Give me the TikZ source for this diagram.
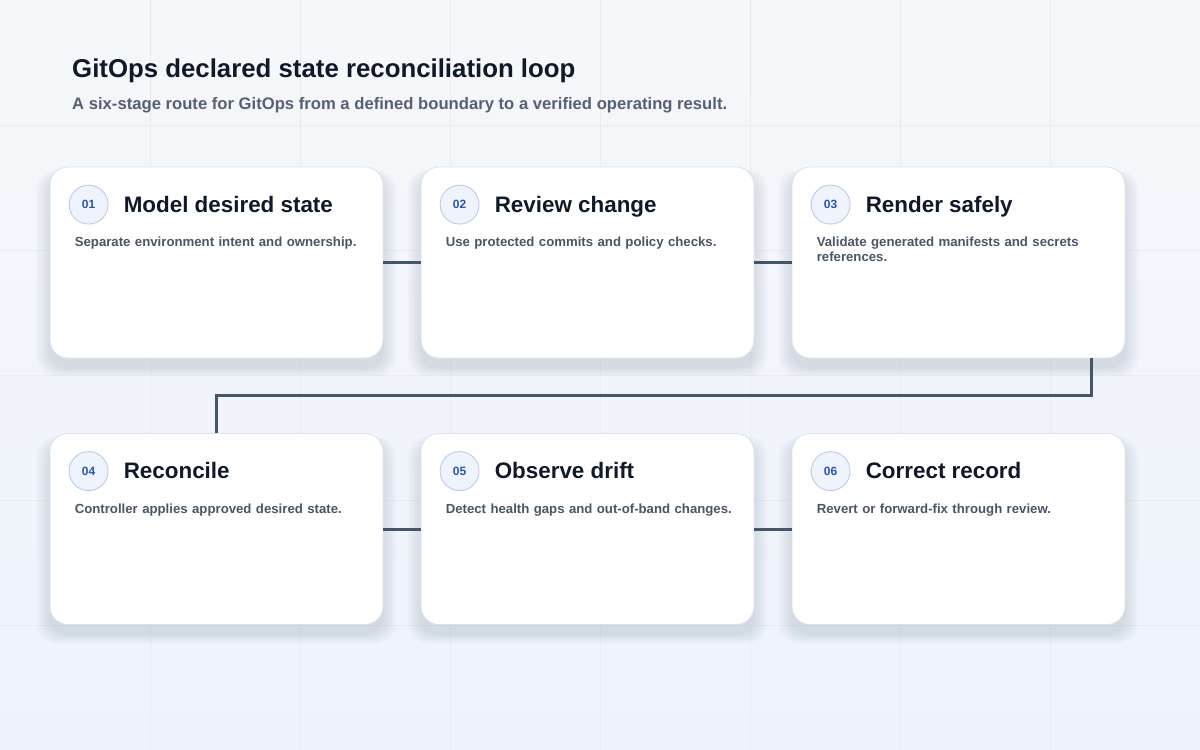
\documentclass[tikz,border=0pt]{standalone}
\usepackage{fontspec}
\setmainfont{Liberation Sans}
\usepackage{xcolor}
\usepackage{tikz}
\usetikzlibrary{shadows}
\hyphenpenalty=10000
\exhyphenpenalty=10000

\definecolor{ink}{HTML}{111827}
\definecolor{muted}{HTML}{4B5563}
\definecolor{subink}{HTML}{566070}
\definecolor{wire}{HTML}{475569}
\definecolor{cardedge}{HTML}{DCE2EC}
\definecolor{badgefill}{HTML}{EEF3FC}
\definecolor{badgeline}{HTML}{B8C7E4}
\definecolor{badgetext}{HTML}{2F55A4}
\definecolor{bgtop}{HTML}{F6F7FA}
\definecolor{bgbottom}{HTML}{EDF3FC}
\definecolor{gridline}{HTML}{E7EBF2}
\definecolor{shade}{HTML}{33415C}

\begin{document}
\begin{tikzpicture}[x=1pt, y=-1pt,
            soft/.style = {general shadow={fill=shade, opacity=0.025,
                          shadow scale=#1, shadow yshift=-10pt}},
            card/.style = {draw=cardedge, line width=0.8pt, fill=white,
                          rounded corners=18pt, minimum width=333pt,
                          minimum height=191pt, inner sep=0pt,
                          soft=1.08, soft=1.065, soft=1.05, soft=1.035, soft=1.02,
                          soft=1.005},
            badge/.style = {circle, draw=badgeline, line width=0.8pt,
                           fill=badgefill, minimum size=39pt, inner sep=0pt,
                           text=badgetext, font=\fontsize{12}{14}\bfseries},
            stagetitle/.style = {anchor=base west, inner sep=0pt, text=ink,
                                font=\fontsize{22.4}{26}\bfseries},
            stagetext/.style = {anchor=base west, inner sep=0pt, text=muted,
                               text width=292pt, align=left,
                               font=\fontsize{13.2}{15.2}\bfseries},
            wire/.style = {draw=wire, line width=3pt}
        ]
            \useasboundingbox (0,0) rectangle (1200,750);
            \shade[top color=bgtop, bottom color=bgbottom] (0,0) rectangle (1200,750);
            \foreach \gx in {150,300,...,1050}
                \draw[gridline, line width=0.8pt] (\gx,0) -- (\gx,750);
            \foreach \gy in {125,250,...,625}
                \draw[gridline, line width=0.8pt] (0,\gy) -- (1200,\gy);

            \node[anchor=base west, inner sep=0pt, text=ink,
                  font=\fontsize{25.8}{30}\bfseries] (head) at (72,77)
                  {GitOps declared state reconciliation loop};
            \node[anchor=base west, inner sep=0pt, text=subink,
                  font=\fontsize{16.65}{19}\bfseries] (sub) at (72,109)
                  {A six-stage route for GitOps from a defined boundary to a verified operating result.};

            \coordinate (p1) at (216.5,262.5);
            \coordinate (p2) at (587.5,262.5);
            \coordinate (p3) at (958.5,262.5);
            \coordinate (p4) at (216.5,529);
            \coordinate (p5) at (587.5,529);
            \coordinate (p6) at (958.5,529);

            \node[card] (c1) at (p1) {};
            \node[card] (c2) at (p2) {};
            \node[card] (c3) at (p3) {};
            \node[card] (c4) at (p4) {};
            \node[card] (c5) at (p5) {};
            \node[card] (c6) at (p6) {};

            % row links, then the turn from 03 down to 04
            \path   (c1) edge[wire] (c2)    (c2) edge[wire] (c3)
                    (c4) edge[wire] (c5)    (c5) edge[wire] (c6);
            \draw[wire] ([xshift=-34pt]c3.south east) -- ++(0,37) -| (c4.north);

            \node[badge] (b1) at ([xshift=39pt, yshift=-38pt]c1.north west) {01};
            \node[badge] (b2) at ([xshift=39pt, yshift=-38pt]c2.north west) {02};
            \node[badge] (b3) at ([xshift=39pt, yshift=-38pt]c3.north west) {03};
            \node[badge] (b4) at ([xshift=39pt, yshift=-38pt]c4.north west) {04};
            \node[badge] (b5) at ([xshift=39pt, yshift=-38pt]c5.north west) {05};
            \node[badge] (b6) at ([xshift=39pt, yshift=-38pt]c6.north west) {06};

            \node[stagetitle] (t1) at ([xshift=35pt, yshift=-7.5pt]b1.center) {Model desired state};
            \node[stagetitle] (t2) at ([xshift=35pt, yshift=-7.5pt]b2.center) {Review change};
            \node[stagetitle] (t3) at ([xshift=35pt, yshift=-7.5pt]b3.center) {Render safely};
            \node[stagetitle] (t4) at ([xshift=35pt, yshift=-7.5pt]b4.center) {Reconcile};
            \node[stagetitle] (t5) at ([xshift=35pt, yshift=-7.5pt]b5.center) {Observe drift};
            \node[stagetitle] (t6) at ([xshift=35pt, yshift=-7.5pt]b6.center) {Correct record};

            \node[stagetext] (d1) at ([xshift=25pt, yshift=-80pt]c1.north west)
                {Separate environment intent and ownership.};
            \node[stagetext] (d2) at ([xshift=25pt, yshift=-80pt]c2.north west)
                {Use protected commits and policy checks.};
            \node[stagetext] (d3) at ([xshift=25pt, yshift=-80pt]c3.north west)
                {Validate generated manifests and secrets references.};
            \node[stagetext] (d4) at ([xshift=25pt, yshift=-80pt]c4.north west)
                {Controller applies approved desired state.};
            \node[stagetext] (d5) at ([xshift=25pt, yshift=-80pt]c5.north west)
                {Detect health gaps and out-of-band changes.};
            \node[stagetext] (d6) at ([xshift=25pt, yshift=-80pt]c6.north west)
                {Revert or forward-fix through review.};
        \end{tikzpicture}
\end{document}
